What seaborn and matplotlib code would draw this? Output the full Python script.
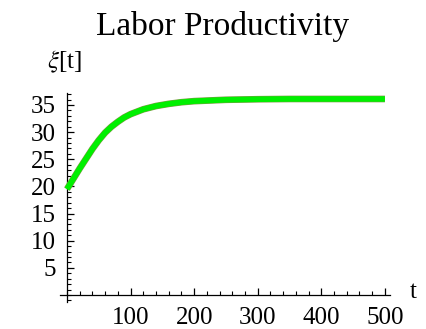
import matplotlib
matplotlib.use("Agg")
import matplotlib.pyplot as plt
import matplotlib.patheffects as pe
from matplotlib.ticker import MultipleLocator
import seaborn as sns
import pandas as pd

# Labor productivity xi over time t
t_values = [0, 10, 20, 30, 40, 50, 60, 70, 80, 90, 100, 120, 140, 160, 180,
            200, 250, 300, 350, 400, 450, 500]
xi_values = [19.5, 21.4, 23.3, 25.1, 26.9, 28.5, 29.9, 31.0, 31.9, 32.7, 33.3,
             34.2, 34.8, 35.2, 35.5, 35.7, 35.95, 36.05, 36.1, 36.1, 36.1, 36.1]

x_major = [100, 200, 300, 400, 500]
y_major = [5, 10, 15, 20, 25, 30, 35]

df = pd.DataFrame({"t": t_values, "xi": xi_values})

sns.set_style("white")
plt.rcParams["font.family"] = ["Liberation Serif", "DejaVu Serif"]
plt.rcParams["mathtext.fontset"] = "stix"
plt.rcParams["text.color"] = "black"
plt.rcParams["xtick.color"] = "black"
plt.rcParams["ytick.color"] = "black"

fig = plt.figure(figsize=(4.26, 3.29), dpi=100)
ax = fig.add_axes([60 / 426, 27 / 329, 330 / 426, 209 / 329])

sns.lineplot(data=df, x="t", y="xi", ax=ax, color="#00f000", linewidth=4.0,
             path_effects=[pe.Stroke(linewidth=4.8, foreground="#7f9a45"),
                           pe.Normal()],
             solid_capstyle="butt", zorder=3)

ax.set_xlim(-11, 508)
ax.set_ylim(-1.3, 37.2)

for side in ("top", "right"):
    ax.spines[side].set_visible(False)
ax.spines["left"].set_position(("data", 0))
ax.spines["bottom"].set_position(("data", 0))
for side in ("left", "bottom"):
    ax.spines[side].set_color("black")
    ax.spines[side].set_linewidth(0.9)

ax.set_xticks(x_major)
ax.set_yticks(y_major)
ax.xaxis.set_minor_locator(MultipleLocator(20))
ax.yaxis.set_minor_locator(MultipleLocator(1))
ax.tick_params(axis="both", which="both", bottom=True, left=True,
               top=False, right=False)
ax.tick_params(axis="both", which="major", direction="in", length=5,
               width=0.9, color="black", labelcolor="black", labelsize=18)
ax.tick_params(axis="both", which="minor", direction="in", length=3,
               width=0.8, color="black")
ax.tick_params(axis="x", which="major", pad=8.5)
ax.tick_params(axis="y", which="major", pad=8)

ax.set_xlabel("")
ax.set_ylabel("")
ax.grid(False)

fig.text(223 / 426, 1 - 27 / 329, "Labor Productivity", ha="center",
         va="center", fontsize=24, color="black")
fig.text(65 / 426, 1 - 62 / 329, r"$\xi$[t]", ha="center", va="center",
         fontsize=18, color="black")
fig.text(413 / 426, 1 - 292 / 329, "t", ha="center", va="center",
         fontsize=18, color="black")

fig.savefig("out.png", dpi=100)
